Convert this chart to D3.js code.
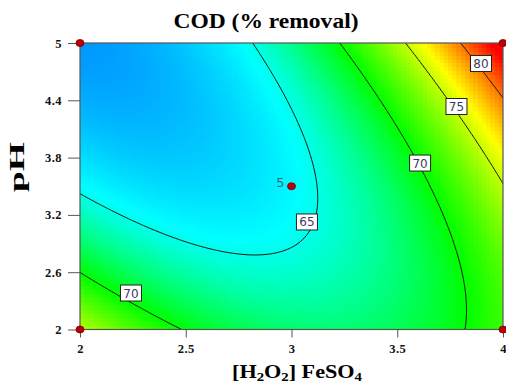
<!DOCTYPE html>
<html>
<head>
<meta charset="utf-8">
<script src="https://cdn.jsdelivr.net/npm/d3@7"></script>
<style>
  body { margin: 0; background: #fff; }
  svg { display: block; }
</style>
</head>
<body>
<svg id="chart"></svg>
<script>
// fitted quadratic model, coded A = (ratio - 3) / 1, B = (pH - 3.5) / 1.5
const modelTerms = ["Intercept", "A", "B", "AB", "A^2", "B^2"];
const modelCoefs = [64.3, 5.13, -0.34, 6.77, 5.45, 3.04];

const xTicks = [2, 2.5, 3, 3.5, 4];
const yTicks = [2, 2.6, 3.2, 3.8, 4.4, 5];
const contourLevels = [65, 70, 75, 80];

// contour labels (value, ratio, pH)
const labelValues = [80, 75, 70, 65, 70];
const labelX = [3.896, 3.78, 3.608, 3.073, 2.241];
const labelY = [4.785, 4.335, 3.743, 3.126, 2.382];

// design points
const designX = [2, 4, 2, 4, 3];
const designY = [5, 5, 2, 2, 3.5];
const designReps = [1, 1, 1, 1, 5];

const colorValues = [60.5, 64.5, 70, 76.5, 83];
const colorHex = ["#0096ff", "#00ffff", "#00ff00", "#ffff00", "#ff0000"];

const width = 506, height = 385;
const serif = "'Liberation Serif', 'Times New Roman', serif";

let svg = d3.select("#chart").attr("width", width).attr("height", height);

let x = d3.scaleLinear().domain([2, 4]).range([80, 503]);
let y = d3.scaleLinear().domain([2, 5]).range([329.5, 43]);
let color = d3.scaleLinear().domain(colorValues).range(colorHex).clamp(true);

function predict(ratio, ph) {
    let a = (ratio - 3) / 1;
    let b = (ph - 3.5) / 1.5;
    let terms = [1, a, b, a * b, a * a, b * b];
    return d3.sum(terms, (t, i) => t * modelCoefs[i]);
}

svg.append("defs").append("clipPath").attr("id", "plotclip")
    .append("rect")
    .attr("x", x(2)).attr("y", y(5))
    .attr("width", x(4) - x(2)).attr("height", y(2) - y(5));

let plot = svg.append("g").attr("clip-path", "url(#plotclip)");

// filled surface, blocky like the original
let nx = 100, ny = 72;
let dx = 2 / nx, dy = 3 / ny;
let cells = [];
for (let j = 0; j < ny; j++) {
    for (let i = 0; i < nx; i++) {
        cells.push({ r: 2 + i * dx, p: 2 + j * dy });
    }
}
plot.selectAll("rect.cell")
    .data(cells)
    .join("rect")
    .attr("class", "cell")
    .attr("x", d => x(d.r))
    .attr("y", d => y(d.p + dy))
    .attr("width", x(2 + dx) - x(2) + 0.6)
    .attr("height", y(2) - y(2 + dy) + 0.6)
    .attr("fill", d => color(predict(d.r + dx / 2, d.p + dy / 2)))
    .attr("shape-rendering", "crispEdges");

// contour lines
let gn = 201, gm = 151;
let gdx = 2 / (gn - 1), gdy = 3 / (gm - 1);
let grid = new Array(gn * gm);
for (let j = 0; j < gm; j++) {
    for (let i = 0; i < gn; i++) {
        grid[j * gn + i] = predict(2 + i * gdx, 2 + j * gdy);
    }
}
let contours = d3.contours().size([gn, gm]).thresholds(contourLevels)(grid);
let project = d3.geoTransform({
    point: function(px, py) {
        this.stream.point(x(2 + (px - 0.5) * gdx), y(2 + (py - 0.5) * gdy));
    }
});
plot.selectAll("path.contour")
    .data(contours)
    .join("path")
    .attr("class", "contour")
    .attr("d", d3.geoPath(project))
    .attr("fill", "none")
    .attr("stroke", "#111")
    .attr("stroke-width", 1);

// border
svg.append("rect")
    .attr("x", x(2)).attr("y", y(5))
    .attr("width", x(4) - x(2)).attr("height", y(2) - y(5))
    .attr("fill", "none")
    .attr("stroke", "#555")
    .attr("stroke-width", 1.2);

// contour labels
let labels = svg.append("g");
labelValues.forEach((v, i) => {
    let cx = x(labelX[i]), cy = y(labelY[i]);
    labels.append("rect")
        .attr("x", cx - 10.5).attr("y", cy - 8)
        .attr("width", 21).attr("height", 16)
        .attr("fill", "#fff")
        .attr("stroke", "#222")
        .attr("stroke-width", 1);
    labels.append("text")
        .attr("x", cx).attr("y", cy + 4.5)
        .attr("text-anchor", "middle")
        .attr("font-family", "'DejaVu Sans', sans-serif")
        .attr("font-size", "12px")
        .attr("fill", "#3c3c5c")
        .text(v);
});

// axes
let yAxis = svg.append("g")
    .attr("transform", `translate(${x(2)},0)`)
    .call(d3.axisLeft(y).tickValues(yTicks).tickSize(12).tickPadding(6).tickFormat(d3.format("")));
let xAxis = svg.append("g")
    .attr("transform", `translate(0,${y(2)})`)
    .call(d3.axisBottom(x).tickValues(xTicks).tickSize(8).tickPadding(7).tickFormat(d3.format("")));
[xAxis, yAxis].forEach(g => {
    g.select(".domain").remove();
    g.selectAll(".tick line").attr("stroke", "#555");
    g.selectAll(".tick text")
        .attr("fill", "#111")
        .attr("font-family", serif)
        .attr("font-weight", "bold")
        .attr("font-size", "12.5px")
        .attr("letter-spacing", "0.5px");
});

// design points
svg.append("g").selectAll("ellipse")
    .data(designX.map((d, i) => ({ r: d, p: designY[i], n: designReps[i] })))
    .join("ellipse")
    .attr("cx", d => x(d.r))
    .attr("cy", d => y(d.p))
    .attr("rx", 4)
    .attr("ry", 3.5)
    .attr("fill", "#c00000")
    .attr("stroke", "#700000")
    .attr("stroke-width", 0.8);
designX.forEach((d, i) => {
    if (designReps[i] > 1) {
        svg.append("text")
            .attr("x", x(d) - 7).attr("y", y(designY[i]) + 1)
            .attr("text-anchor", "end")
            .attr("font-family", "'DejaVu Sans', sans-serif")
            .attr("font-size", "13px")
            .attr("fill", "#3a6a6a")
            .text(designReps[i]);
    }
});

// titles
svg.append("text")
    .attr("x", 266).attr("y", 28)
    .attr("text-anchor", "middle")
    .attr("font-family", serif)
    .attr("font-weight", "bold")
    .attr("font-size", "21px")
    .attr("textLength", 185)
    .attr("lengthAdjust", "spacingAndGlyphs")
    .text("COD (% removal)");

let xt = svg.append("text")
    .attr("x", 297).attr("y", 378)
    .attr("text-anchor", "middle")
    .attr("font-family", serif)
    .attr("font-weight", "bold")
    .attr("font-size", "18px")
    .attr("textLength", 130)
    .attr("lengthAdjust", "spacingAndGlyphs");
xt.append("tspan").text("[H");
xt.append("tspan").attr("font-size", "12px").attr("dy", 3).text("2");
xt.append("tspan").attr("dy", -3).text("O");
xt.append("tspan").attr("font-size", "12px").attr("dy", 3).text("2");
xt.append("tspan").attr("dy", -3).text("] FeSO");
xt.append("tspan").attr("font-size", "12px").attr("dy", 3).text("4");

svg.append("text")
    .attr("transform", "translate(24,167) rotate(-90)")
    .attr("text-anchor", "middle")
    .attr("font-family", serif)
    .attr("font-weight", "bold")
    .attr("font-size", "22px")
    .attr("textLength", 50)
    .attr("lengthAdjust", "spacingAndGlyphs")
    .text("pH");
</script>
</body>
</html>
